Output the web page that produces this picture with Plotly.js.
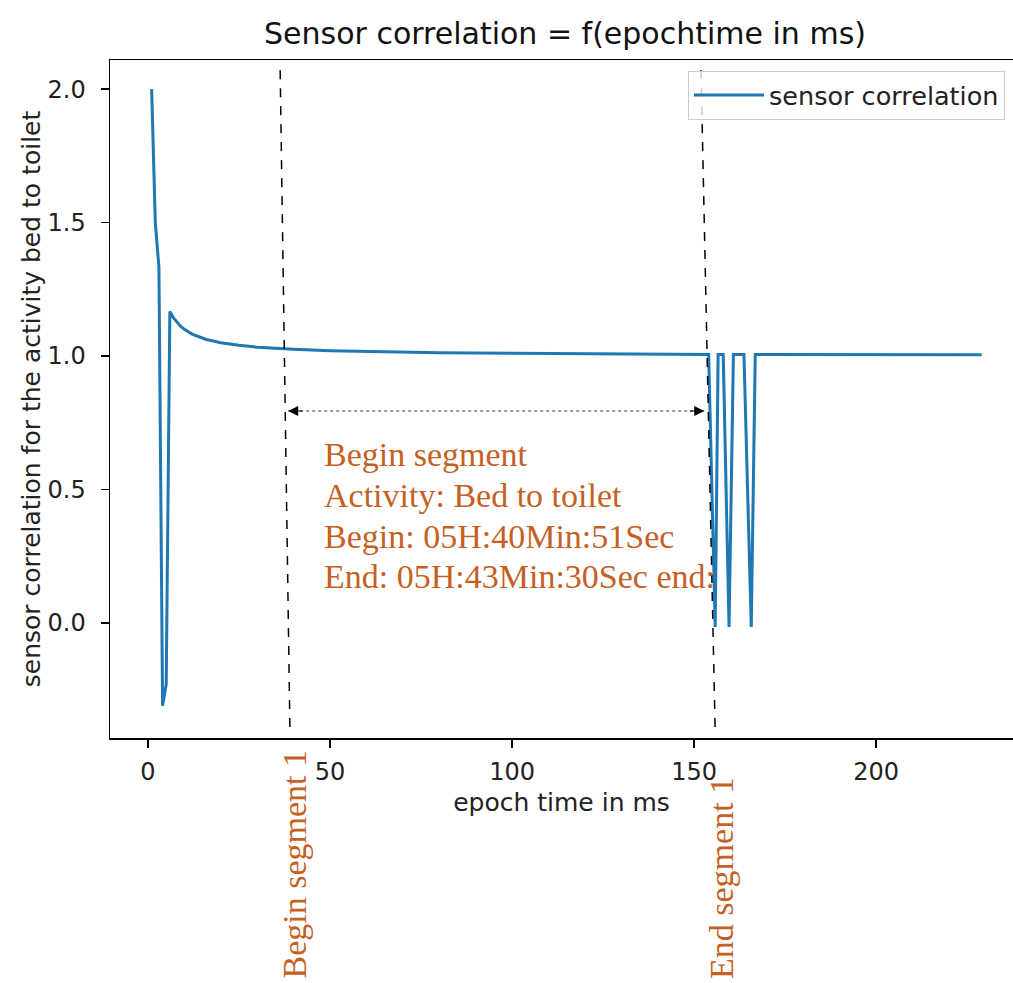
<!DOCTYPE html>
<html>
<head>
<meta charset="utf-8">
<script src="https://cdn.plot.ly/plotly-3.0.1.min.js"></script>
<style>html,body{margin:0;padding:0;background:#fff;}</style>
</head>
<body>
<div id="chart" style="width:1013px;height:983px;"></div>
<script>
// ---- data ----
const epochTime = [1,2,3,4,5,6,7,8,9,10,11,12,13,14,15,16,17,18,19,20,25,30,35,40,50,60,70,80,100,120,140,154,155.8,156.6,158,159.6,160.8,163.7,165.7,166.8,229];
const sensorCorrelation = [2.0,1.5,1.333,-0.31,-0.23,1.167,1.143,1.125,1.111,1.1,1.091,1.083,1.077,1.071,1.067,1.062,1.059,1.056,1.053,1.05,1.04,1.033,1.029,1.025,1.02,1.017,1.014,1.012,1.01,1.008,1.007,1.006,-0.015,1.006,1.006,-0.015,1.006,1.006,-0.015,1.006,1.005];
const seriesName = 'sensor correlation';
const xTicks = [0,50,100,150,200];
const yTicks = [0.0,0.5,1.0,1.5,2.0];
const yTickLabels = ['0.0','0.5','1.0','1.5','2.0'];
const segmentBegin = [36.3, 39.0];   // dashed marker (top, bottom) x
const segmentEnd = [151.9, 155.8];
const segmentArrow = [38.5, 152.8, 0.794];
const infoLines = ['Begin segment','Activity: Bed to toilet','Begin: 05H:40Min:51Sec','End: 05H:43Min:30Sec end:'];
const segLabels = ['Begin segment 1','End segment 1'];

const orange = '#c65f1f';
const serif = 'Liberation Serif, Times New Roman, serif';
const sans = 'DejaVu Sans, sans-serif';

// plot area in pixels: x 110..1013, y 60..738
const pl = 110, pr = 1013, pt = 60, pb = 738;
const px2paperX = p => (p - pl) / (pr - pl);
const py2paperY = p => (pb - p) / (pb - pt);

const shapes = [
  {type:'line', xref:'x', yref:'y', x0:segmentBegin[0], y0:2.071, x1:segmentBegin[1], y1:-0.412,
   line:{color:'#000', width:1.5, dash:'dash'}},
  {type:'line', xref:'x', yref:'y', x0:segmentEnd[0], y0:2.071, x1:segmentEnd[1], y1:-0.412,
   line:{color:'#000', width:1.5, dash:'dash'}},
  {type:'line', xref:'x', yref:'y', x0:segmentArrow[0], y0:segmentArrow[2], x1:segmentArrow[1], y1:segmentArrow[2],
   line:{color:'#000', width:0.8, dash:'dot'}}
];

const annotations = [
  {x:segmentArrow[0], y:segmentArrow[2], xref:'x', yref:'y', ax:16, ay:0, text:'', showarrow:true,
   arrowhead:2, arrowsize:2, arrowwidth:1, arrowcolor:'#000'},
  {x:segmentArrow[1], y:segmentArrow[2], xref:'x', yref:'y', ax:-16, ay:0, text:'', showarrow:true,
   arrowhead:2, arrowsize:2, arrowwidth:1, arrowcolor:'#000'}
];
const lineCenters = [454.5, 495, 536, 576.5];
infoLines.forEach((t, i) => {
  annotations.push({x:px2paperX(322), y:py2paperY(lineCenters[i]), xref:'paper', yref:'paper',
    xanchor:'left', yanchor:'middle', showarrow:false, text:t,
    font:{family:serif, size:34, color:orange}});
});
annotations.push({x:px2paperX(294), y:py2paperY(981), xref:'paper', yref:'paper', textangle:-90,
  xanchor:'center', yanchor:'bottom', showarrow:false, text:segLabels[0],
  font:{family:serif, size:34, color:orange}});
annotations.push({x:px2paperX(721), y:py2paperY(981), xref:'paper', yref:'paper', textangle:-90,
  xanchor:'center', yanchor:'bottom', showarrow:false, text:segLabels[1],
  font:{family:serif, size:34, color:orange}});

const trace = {
  x: epochTime, y: sensorCorrelation, type:'scatter', mode:'lines', name: seriesName,
  line:{color:'#1f77b4', width:3}
};

const layout = {
  width:1013, height:983,
  margin:{l:pl, r:0, t:pt, b:983-pb, pad:0},
  paper_bgcolor:'#fff', plot_bgcolor:'#fff',
  title:{text:'Sensor correlation = f(epochtime in ms)', font:{family:sans, size:30, color:'#111'},
    x:px2paperX(565), xref:'paper', xanchor:'center', y:1-33/983, yanchor:'middle'},
  showlegend:true,
  legend:{x:px2paperX(688), y:py2paperY(71), xanchor:'left', yanchor:'top',
    bgcolor:'rgba(255,255,255,0.8)', bordercolor:'#cccccc', borderwidth:1, itemwidth:70,
    font:{family:sans, size:25.5, color:'#222'}},
  xaxis:{range:[-10.44, 237.6], tickvals:xTicks, ticktext:xTicks.map(String),
    showgrid:false, zeroline:false, showline:true, mirror:true, linecolor:'#000', linewidth:1.5,
    ticks:'outside', ticklen:8, tickwidth:1.5, tickcolor:'#000', ticklabelstandoff:4,
    tickfont:{family:sans, size:24, color:'#222'},
    title:{text:'epoch time in ms', font:{family:sans, size:25, color:'#222'}, standoff:8},
    automargin:false},
  yaxis:{range:[-0.431, 2.109], tickvals:yTicks, ticktext:yTickLabels,
    showgrid:false, zeroline:false, showline:true, mirror:false, linecolor:'#000', linewidth:1.5,
    ticks:'outside', ticklen:8, tickwidth:1.5, tickcolor:'#000', ticklabelstandoff:10,
    tickfont:{family:sans, size:24, color:'#222'},
    title:{text:'sensor correlation for the activity bed to toilet', font:{family:sans, size:25, color:'#222'}, standoff:0},
    automargin:false},
  shapes: shapes,
  annotations: annotations
};

Plotly.newPlot('chart', [trace], layout, {displayModeBar:false, staticPlot:true});
</script>
</body>
</html>
